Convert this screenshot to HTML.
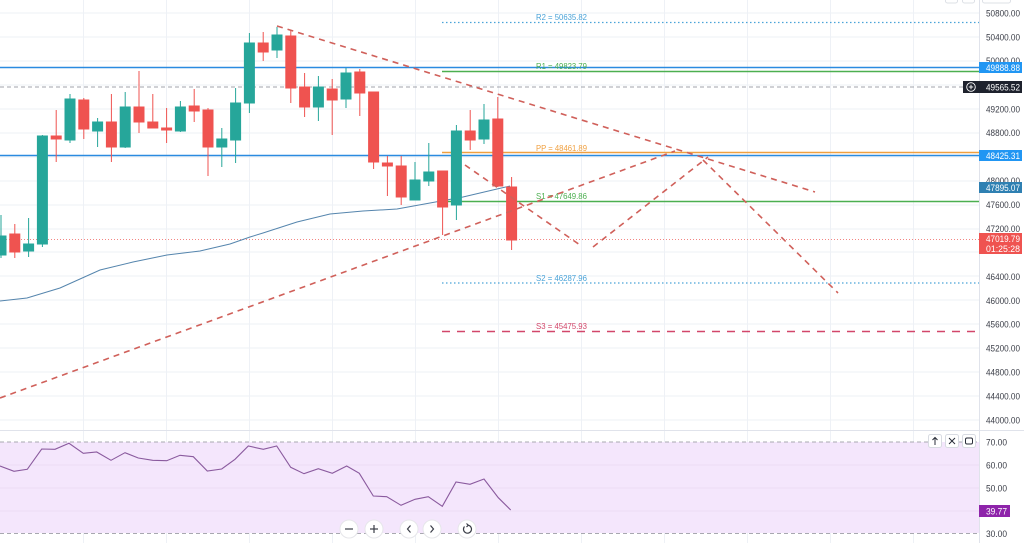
<!DOCTYPE html>
<html><head><meta charset="utf-8"><style>
html,body{margin:0;padding:0;background:#fff;}
svg{display:block;}
text{font-family:"Liberation Sans",sans-serif;}
</style></head><body>
<svg width="1024" height="543" viewBox="0 0 1024 543" xmlns="http://www.w3.org/2000/svg">
<rect width="1024" height="543" fill="#fff"/>
<!-- grid -->
<g stroke="#eef1f6" stroke-width="1">
<line x1="83.5" y1="0" x2="83.5" y2="543"/><line x1="166.5" y1="0" x2="166.5" y2="543"/><line x1="249.5" y1="0" x2="249.5" y2="543"/><line x1="332.5" y1="0" x2="332.5" y2="543"/><line x1="415.5" y1="0" x2="415.5" y2="543"/><line x1="498.5" y1="0" x2="498.5" y2="543"/><line x1="581.5" y1="0" x2="581.5" y2="543"/><line x1="664.5" y1="0" x2="664.5" y2="543"/><line x1="747.5" y1="0" x2="747.5" y2="543"/><line x1="830.5" y1="0" x2="830.5" y2="543"/><line x1="913.5" y1="0" x2="913.5" y2="543"/>
<line x1="0" y1="13" x2="979" y2="13"/><line x1="0" y1="37" x2="979" y2="37"/><line x1="0" y1="61" x2="979" y2="61"/><line x1="0" y1="85" x2="979" y2="85"/><line x1="0" y1="109" x2="979" y2="109"/><line x1="0" y1="133" x2="979" y2="133"/><line x1="0" y1="157" x2="979" y2="157"/><line x1="0" y1="181" x2="979" y2="181"/><line x1="0" y1="205" x2="979" y2="205"/><line x1="0" y1="229" x2="979" y2="229"/><line x1="0" y1="252" x2="979" y2="252"/><line x1="0" y1="276" x2="979" y2="276"/><line x1="0" y1="300" x2="979" y2="300"/><line x1="0" y1="324" x2="979" y2="324"/><line x1="0" y1="348" x2="979" y2="348"/><line x1="0" y1="372" x2="979" y2="372"/><line x1="0" y1="396" x2="979" y2="396"/><line x1="0" y1="420" x2="979" y2="420"/>
</g>
<!-- RSI pane background -->
<rect x="0" y="442" width="979" height="91" fill="#f4e6fc"/>
<g stroke="#ebdcf3" stroke-width="1">
<line x1="0" y1="465" x2="979" y2="465"/><line x1="0" y1="488" x2="979" y2="488"/><line x1="0" y1="511" x2="979" y2="511"/>
</g>
<line x1="0" y1="442" x2="979" y2="442" stroke="#a8a8b0" stroke-width="1" stroke-dasharray="4 3"/>
<line x1="0" y1="533.5" x2="979" y2="533.5" stroke="#a8a8b0" stroke-width="1" stroke-dasharray="4 3"/>
<!-- pane separator & axis border -->
<line x1="0" y1="430.5" x2="1024" y2="430.5" stroke="#e0e3eb" stroke-width="1"/>
<line x1="979.5" y1="0" x2="979.5" y2="543" stroke="#e0e3eb" stroke-width="1"/>

<!-- horizontal full-width lines -->
<line x1="0" y1="67.5" x2="979" y2="67.5" stroke="#2a8be0" stroke-width="1.5"/>
<line x1="0" y1="155.5" x2="979" y2="155.5" stroke="#2a8be0" stroke-width="1.5"/>
<line x1="0" y1="87" x2="979" y2="87" stroke="#a0a3ab" stroke-width="1" stroke-dasharray="4 3"/>
<line x1="0" y1="239.5" x2="979" y2="239.5" stroke="#ef5350" stroke-width="1" stroke-dasharray="1 2" opacity="0.7"/>

<!-- pivot lines -->
<line x1="442" y1="22.5" x2="979" y2="22.5" stroke="#4aa3d8" stroke-width="1.2" stroke-dasharray="1.5 2.5"/>
<line x1="442" y1="71.5" x2="979" y2="71.5" stroke="#4caf50" stroke-width="1.5"/>
<line x1="442" y1="152.5" x2="979" y2="152.5" stroke="#f0a040" stroke-width="1.5"/>
<line x1="442" y1="201.5" x2="979" y2="201.5" stroke="#4caf50" stroke-width="1.5"/>
<line x1="442" y1="283" x2="979" y2="283" stroke="#4aa3d8" stroke-width="1.2" stroke-dasharray="1.5 2.5"/>
<line x1="442" y1="331.5" x2="979" y2="331.5" stroke="#d2476a" stroke-width="1.5" stroke-dasharray="8 7"/>
<g font-size="8.5">
<text x="536" y="20" fill="#4aa3d8" textLength="51" lengthAdjust="spacingAndGlyphs">R2 = 50635.82</text>
<text x="536" y="69" fill="#4caf50" textLength="51" lengthAdjust="spacingAndGlyphs">R1 = 49823.79</text>
<text x="536" y="151" fill="#f0a040" textLength="51" lengthAdjust="spacingAndGlyphs">PP = 48461.89</text>
<text x="536" y="199" fill="#4caf50" textLength="51" lengthAdjust="spacingAndGlyphs">S1 = 47649.86</text>
<text x="536" y="281" fill="#4aa3d8" textLength="51" lengthAdjust="spacingAndGlyphs">S2 = 46287.96</text>
<text x="536" y="329" fill="#d2476a" textLength="51" lengthAdjust="spacingAndGlyphs">S3 = 45475.93</text>
</g>

<!-- MA -->
<polyline fill="none" stroke="#5585ad" stroke-width="1" points="0,301 27,298 60,288 100,270 133,262 167,255 200,251 230,244 250,237 263,233 297,222 330,214 363,211 397,209 430,203 463,197 497,189 510,186"/>

<!-- candles -->
<g stroke-width="1">
<g stroke="#26a69a" fill="#26a69a">
<line x1="1" y1="215" x2="1" y2="258"/><rect x="-4" y="236" width="10" height="19"/>
<line x1="28.6" y1="218" x2="28.6" y2="257"/><rect x="23.6" y="244" width="10" height="7"/>
<line x1="42.4" y1="135" x2="42.4" y2="247"/><rect x="37.4" y="136" width="10" height="108"/>
<line x1="70" y1="94" x2="70" y2="143"/><rect x="65" y="99" width="10" height="41"/>
<line x1="97.6" y1="118" x2="97.6" y2="147"/><rect x="92.6" y="122" width="10" height="9"/>
<line x1="125.2" y1="92" x2="125.2" y2="148"/><rect x="120.2" y="107" width="10" height="40"/>
<line x1="180.4" y1="101" x2="180.4" y2="132"/><rect x="175.4" y="107" width="10" height="24"/>
<line x1="221.8" y1="128" x2="221.8" y2="167"/><rect x="216.8" y="139" width="10" height="8"/>
<line x1="235.6" y1="88" x2="235.6" y2="163"/><rect x="230.6" y="103" width="10" height="37"/>
<line x1="249.4" y1="33" x2="249.4" y2="113"/><rect x="244.4" y="43" width="10" height="60"/>
<line x1="277" y1="27" x2="277" y2="58"/><rect x="272" y="35" width="10" height="15"/>
<line x1="318.4" y1="76" x2="318.4" y2="121"/><rect x="313.4" y="87" width="10" height="20"/>
<line x1="346" y1="68" x2="346" y2="108"/><rect x="341" y="73" width="10" height="26"/>
<line x1="415" y1="162" x2="415" y2="200"/><rect x="410" y="180" width="10" height="20"/>
<line x1="428.8" y1="143" x2="428.8" y2="186"/><rect x="423.8" y="172" width="10" height="9"/>
<line x1="456.4" y1="125" x2="456.4" y2="220"/><rect x="451.4" y="131" width="10" height="74"/>
<line x1="484" y1="104" x2="484" y2="144"/><rect x="479" y="120" width="10" height="19"/>
</g>
<g stroke="#ef5350" fill="#ef5350">
<line x1="14.8" y1="224" x2="14.8" y2="258"/><rect x="9.8" y="234" width="10" height="18"/>
<line x1="56.2" y1="110" x2="56.2" y2="162"/><rect x="51.2" y="136" width="10" height="3"/>
<line x1="83.8" y1="98" x2="83.8" y2="139"/><rect x="78.8" y="100" width="10" height="29"/>
<line x1="111.4" y1="94" x2="111.4" y2="162"/><rect x="106.4" y="122" width="10" height="25"/>
<line x1="139" y1="71" x2="139" y2="133"/><rect x="134" y="107" width="10" height="15"/>
<line x1="152.8" y1="94" x2="152.8" y2="128"/><rect x="147.8" y="122" width="10" height="6"/>
<line x1="166.6" y1="108" x2="166.6" y2="143"/><rect x="161.6" y="128" width="10" height="2"/>
<line x1="194.2" y1="89" x2="194.2" y2="122"/><rect x="189.2" y="106" width="10" height="5"/>
<line x1="208" y1="108" x2="208" y2="176"/><rect x="203" y="110" width="10" height="37"/>
<line x1="263.2" y1="32" x2="263.2" y2="61"/><rect x="258.2" y="43" width="10" height="9"/>
<line x1="290.8" y1="30" x2="290.8" y2="103"/><rect x="285.8" y="36" width="10" height="52"/>
<line x1="304.6" y1="73" x2="304.6" y2="117"/><rect x="299.6" y="87" width="10" height="20"/>
<line x1="332.2" y1="79" x2="332.2" y2="135"/><rect x="327.2" y="89" width="10" height="11"/>
<line x1="359.8" y1="69" x2="359.8" y2="116"/><rect x="354.8" y="72" width="10" height="21"/>
<line x1="373.6" y1="92" x2="373.6" y2="169"/><rect x="368.6" y="92" width="10" height="70"/>
<line x1="387.4" y1="156" x2="387.4" y2="196"/><rect x="382.4" y="163" width="10" height="3"/>
<line x1="401.2" y1="156" x2="401.2" y2="205"/><rect x="396.2" y="166" width="10" height="31"/>
<line x1="442.6" y1="171" x2="442.6" y2="235"/><rect x="437.6" y="171" width="10" height="36"/>
<line x1="470.2" y1="110" x2="470.2" y2="150"/><rect x="465.2" y="131" width="10" height="9"/>
<line x1="497.8" y1="97" x2="497.8" y2="187"/><rect x="492.8" y="119" width="10" height="67"/>
<line x1="511.6" y1="177" x2="511.6" y2="250"/><rect x="506.6" y="187" width="10" height="53"/>
</g>
</g>

<!-- dashed trend lines -->
<g stroke="#d0605a" stroke-width="1.6" stroke-dasharray="6 5" fill="none">
<line x1="277" y1="26" x2="815" y2="192"/>
<line x1="0" y1="398" x2="675" y2="151"/>
<line x1="465" y1="165" x2="580" y2="245"/>
<line x1="593" y1="247" x2="708" y2="157"/>
<line x1="703" y1="160" x2="838" y2="293"/>
</g>

<!-- RSI line -->
<polyline fill="none" stroke="#8a5a9e" stroke-width="1.1" points="0,466 14,471.3 27.3,469.3 41.7,449 55,449.3 69,443.3 83.3,453.3 96.7,452 111,460.3 125,452.7 138.3,458 152.7,460.3 166.7,460.7 180,455.3 193.3,456.7 207.3,471 221.7,469 235,459.3 248.3,446 263.3,449.3 276.7,446 290.7,467.3 304,473.7 318.3,468.7 332.3,473.3 346.7,466 359.3,473.3 373.3,496 386.7,496.7 401,505.3 415,499.3 428.3,496.7 442.3,506.3 456,482 470,484.3 484,479 498.3,497.7 510.7,510"/>

<!-- RSI pane buttons -->
<g fill="#fff" stroke="#d8dbe2" stroke-width="1">
<rect x="928.5" y="434.5" width="13" height="13" rx="2"/>
<rect x="945.5" y="434.5" width="13" height="13" rx="2"/>
<rect x="962.5" y="434.5" width="13" height="13" rx="2"/>
</g>
<g stroke="#2a2e39" stroke-width="1" fill="none">
<line x1="935" y1="437.5" x2="935" y2="445"/><polyline points="932.5,440 935,437.5 937.5,440"/>
<line x1="949" y1="438" x2="955" y2="444"/><line x1="955" y1="438" x2="949" y2="444"/>
<rect x="965.5" y="438" width="7" height="6" rx="1.5"/>
</g>
<!-- top partial buttons -->
<g fill="#fff" stroke="#dde0e6" stroke-width="1">
<rect x="945.5" y="-4" width="12" height="7" rx="2"/>
<rect x="962.5" y="-4" width="12" height="7" rx="2"/>
<rect x="982.5" y="-4" width="28" height="7" rx="2"/>
</g>

<!-- bottom nav buttons -->
<g fill="#fff" stroke="#e6e6ea" stroke-width="1">
<circle cx="349" cy="529" r="9"/><circle cx="374" cy="529" r="9"/><circle cx="409" cy="529" r="9"/><circle cx="432" cy="529" r="9"/><circle cx="467" cy="529" r="9"/>
</g>
<g stroke="#3a3d47" stroke-width="1.2" fill="none">
<line x1="345" y1="529" x2="353" y2="529"/>
<line x1="370" y1="529" x2="378" y2="529"/><line x1="374" y1="525" x2="374" y2="533"/>
<polyline points="410.5,525.5 407.5,529 410.5,532.5"/>
<polyline points="430.5,525.5 433.5,529 430.5,532.5"/>
<path d="M464.5,526.5 A4,4 0 1 0 468,525.2"/><polyline points="466.5,523.5 468.3,525.2 466.5,527"/>
</g>

<!-- axis labels -->
<g font-size="9.5" fill="#3a3d47">
<text x="986" y="16.5" textLength="34" lengthAdjust="spacingAndGlyphs">50800.00</text>
<text x="986" y="40.5" textLength="34" lengthAdjust="spacingAndGlyphs">50400.00</text>
<text x="986" y="64" textLength="34" lengthAdjust="spacingAndGlyphs">50000.00</text>
<text x="986" y="112.3" textLength="34" lengthAdjust="spacingAndGlyphs">49200.00</text>
<text x="986" y="136.2" textLength="34" lengthAdjust="spacingAndGlyphs">48800.00</text>
<text x="986" y="184" textLength="34" lengthAdjust="spacingAndGlyphs">48000.00</text>
<text x="986" y="208" textLength="34" lengthAdjust="spacingAndGlyphs">47600.00</text>
<text x="986" y="232" textLength="34" lengthAdjust="spacingAndGlyphs">47200.00</text>
<text x="986" y="279.8" textLength="34" lengthAdjust="spacingAndGlyphs">46400.00</text>
<text x="986" y="303.8" textLength="34" lengthAdjust="spacingAndGlyphs">46000.00</text>
<text x="986" y="327.7" textLength="34" lengthAdjust="spacingAndGlyphs">45600.00</text>
<text x="986" y="351.7" textLength="34" lengthAdjust="spacingAndGlyphs">45200.00</text>
<text x="986" y="375.6" textLength="34" lengthAdjust="spacingAndGlyphs">44800.00</text>
<text x="986" y="399.5" textLength="34" lengthAdjust="spacingAndGlyphs">44400.00</text>
<text x="986" y="423.5" textLength="34" lengthAdjust="spacingAndGlyphs">44000.00</text>
<text x="986" y="445.5" textLength="21" lengthAdjust="spacingAndGlyphs">70.00</text>
<text x="986" y="468.5" textLength="21" lengthAdjust="spacingAndGlyphs">60.00</text>
<text x="986" y="491.5" textLength="21" lengthAdjust="spacingAndGlyphs">50.00</text>
<text x="986" y="537" textLength="21" lengthAdjust="spacingAndGlyphs">30.00</text>
</g>

<!-- axis boxes -->
<rect x="979" y="62" width="43" height="11" fill="#2196f3"/>
<rect x="963" y="81" width="59" height="12" fill="#1e222d"/>
<circle cx="971" cy="87" r="4.3" fill="none" stroke="#fff" stroke-width="0.9"/>
<line x1="968.8" y1="87" x2="973.2" y2="87" stroke="#fff" stroke-width="0.9"/><line x1="971" y1="84.8" x2="971" y2="89.2" stroke="#fff" stroke-width="0.9"/>
<rect x="979" y="150" width="43" height="11" fill="#2196f3"/>
<rect x="979" y="182" width="43" height="11" fill="#2f80b2"/>
<rect x="979" y="233" width="43" height="21" fill="#ef5350"/>
<rect x="979" y="505" width="31" height="12" fill="#8e24aa"/>
<g font-size="9.5" fill="#fff">
<text x="986" y="71" textLength="34" lengthAdjust="spacingAndGlyphs">49888.88</text>
<text x="986" y="90.5" textLength="34" lengthAdjust="spacingAndGlyphs">49565.52</text>
<text x="986" y="159" textLength="34" lengthAdjust="spacingAndGlyphs">48425.31</text>
<text x="986" y="191" textLength="34" lengthAdjust="spacingAndGlyphs">47895.07</text>
<text x="986" y="242" textLength="34" lengthAdjust="spacingAndGlyphs">47019.79</text>
<text x="986" y="252" textLength="34" lengthAdjust="spacingAndGlyphs">01:25:28</text>
<text x="986" y="514.5" textLength="21" lengthAdjust="spacingAndGlyphs">39.77</text>
</g>
</svg>
</body></html>
